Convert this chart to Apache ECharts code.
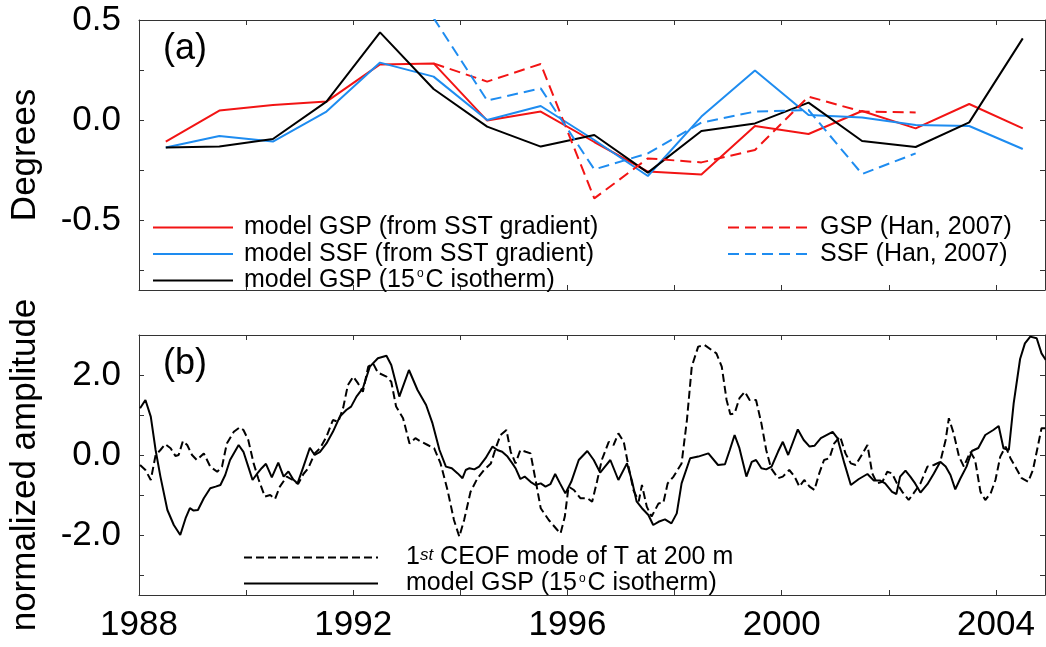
<!DOCTYPE html>
<html>
<head>
<meta charset="utf-8">
<script src="https://cdn.jsdelivr.net/npm/echarts@6/dist/echarts.min.js"></script>
<style>
  html, body { margin: 0; padding: 0; background: #fff; }
  #chart { width: 1046px; height: 647px; }
</style>
</head>
<body>
<div id="chart"></div>
<script>
// ---- Panel (a): annual means, degrees ----
const annualYears = [1988.5, 1989.5, 1990.5, 1991.5, 1992.5, 1993.5, 1994.5, 1995.5, 1996.5,
                     1997.5, 1998.5, 1999.5, 2000.5, 2001.5, 2002.5, 2003.5, 2004.5];
const gspSst  = [-0.108, 0.047, 0.075, 0.092, 0.278, 0.283, -0.003, 0.042, -0.11,
                 -0.258, -0.272, -0.03, -0.07, 0.045, -0.042, 0.08, -0.042];
const ssfSst  = [-0.137, -0.08, -0.108, 0.042, 0.287, 0.217, 0.0, 0.07, -0.1,
                 -0.28, 0.017, 0.247, 0.025, 0.013, -0.025, -0.03, -0.145];
const gsp15   = [-0.138, -0.133, -0.095, 0.092, 0.438, 0.155, -0.033, -0.133, -0.075,
                 -0.263, -0.055, -0.017, 0.087, -0.105, -0.135, -0.012, 0.408];
const gspHan  = [null, null, null, null, null, 0.283, 0.192, 0.28, -0.392,
                 -0.192, -0.212, -0.15, 0.117, 0.042, 0.038, null, null];
const ssfHan  = [null, null, null, null, null, 0.51, 0.097, 0.158, -0.247,
                 -0.167, -0.013, 0.042, 0.05, -0.27, -0.167, null, null];

// ---- Panel (b): normalized amplitude time series ----
const ceofYears = [1988.02, 1988.12, 1988.22, 1988.31, 1988.4, 1988.49, 1988.59, 1988.68, 1988.74, 1988.82,
  1988.9, 1988.99, 1989.08, 1989.21, 1989.33, 1989.46, 1989.55, 1989.64, 1989.77, 1989.88,
  1989.95, 1990.04, 1990.14, 1990.23, 1990.35, 1990.45, 1990.54, 1990.63, 1990.76, 1990.87,
  1990.97, 1991.07, 1991.16, 1991.28, 1991.38, 1991.5, 1991.62, 1991.72, 1991.81, 1991.9,
  1992.0, 1992.09, 1992.18, 1992.28, 1992.37, 1992.46, 1992.62, 1992.71, 1992.8, 1992.93,
  1993.05, 1993.16, 1993.27, 1993.39, 1993.51, 1993.63, 1993.76, 1993.88, 1993.98, 1994.07,
  1994.19, 1994.32, 1994.44, 1994.57, 1994.66, 1994.75, 1994.86, 1994.94, 1995.03, 1995.12,
  1995.22, 1995.31, 1995.4, 1995.5, 1995.65, 1995.81, 1995.87, 1995.95, 1996.02, 1996.12,
  1996.24, 1996.37, 1996.46, 1996.55, 1996.64, 1996.77, 1996.86, 1996.95, 1997.05, 1997.14,
  1997.23, 1997.33, 1997.39, 1997.48, 1997.57, 1997.7, 1997.79, 1997.87, 1997.98, 1998.13,
  1998.23, 1998.32, 1998.44, 1998.56, 1998.69, 1998.78, 1998.88, 1998.97, 1999.04, 1999.12,
  1999.21, 1999.31, 1999.4, 1999.52, 1999.62, 1999.71, 1999.8, 1999.93, 2000.02, 2000.14,
  2000.24, 2000.33, 2000.42, 2000.52, 2000.61, 2000.7, 2000.79, 2000.89, 2000.98, 2001.09,
  2001.19, 2001.29, 2001.38, 2001.51, 2001.6, 2001.69, 2001.78, 2001.88, 2001.97, 2002.06,
  2002.15, 2002.25, 2002.37, 2002.46, 2002.59, 2002.72, 2002.84, 2002.96, 2003.06, 2003.12,
  2003.21, 2003.31, 2003.4, 2003.52, 2003.61, 2003.71, 2003.8, 2003.9, 2003.99, 2004.08,
  2004.18, 2004.27, 2004.36, 2004.48, 2004.6, 2004.69, 2004.78, 2004.85, 2004.92];
const ceofValues = [-0.25, -0.375, -0.625, 0.0, 0.125, 0.27, 0.17, -0.025, 0.0, 0.35,
  0.25, 0.0, -0.125, 0.04, -0.29, -0.42, -0.29, 0.29, 0.58, 0.69,
  0.625, 0.375, -0.21, -0.6, -1.04, -1.0, -1.1, -0.79, -0.54, -0.625,
  -0.725, -0.475, -0.33, 0.04, 0.17, 0.46, 0.875, 0.83, 1.17, 1.75,
  1.96, 1.79, 1.58, 2.21, 2.29, 2.06, 1.96, 1.83, 1.21, 0.92,
  0.29, 0.42, 0.33, 0.25, 0.17, -0.21, -0.875, -1.625, -2.04, -1.625,
  -0.92, -0.58, -0.375, -0.21, 0.17, 0.5, 0.625, 0.08, -0.21, 0.125,
  0.08, 0.04, -0.6, -1.33, -1.625, -1.875, -1.96, -1.54, -0.79, -0.875,
  -1.08, -1.08, -1.17, -0.67, -0.125, 0.33, 0.25, 0.54, 0.33, -0.29,
  -0.875, -1.16, -0.75, -1.29, -1.54, -1.21, -1.19, -0.71, -0.54, -0.21,
  0.875, 2.21, 2.71, 2.75, 2.625, 2.54, 2.21, 1.375, 1.02, 1.04,
  1.42, 1.58, 1.375, 1.375, 0.79, 0.125, -0.33, -0.58, -0.54, -0.375,
  -0.54, -0.79, -0.625, -0.79, -0.875, -0.46, -0.125, -0.08, 0.29, 0.46,
  0.04, -0.21, -0.25, 0.04, 0.25, -0.46, -0.71, -0.67, -0.42, -0.46,
  -0.71, -0.92, -1.125, -0.96, -0.71, -0.29, -0.25, -0.17, 0.375, 0.92,
  0.54, -0.04, -0.29, 0.08, -0.125, -0.92, -1.125, -0.96, -0.625, -0.04,
  0.21, -0.08, -0.29, -0.58, -0.67, -0.375, 0.21, 0.67, 0.67];

const modelYears = [1988.02, 1988.12, 1988.22, 1988.31, 1988.4, 1988.53, 1988.65, 1988.77, 1988.87, 1988.95,
  1989.02, 1989.1, 1989.21, 1989.33, 1989.43, 1989.52, 1989.61, 1989.7, 1989.86, 1989.95,
  1990.04, 1990.12, 1990.21, 1990.29, 1990.37, 1990.48, 1990.6, 1990.7, 1990.79, 1990.88,
  1990.96, 1991.07, 1991.19, 1991.28, 1991.38, 1991.5, 1991.62, 1991.75, 1991.87, 1991.96,
  1992.06, 1992.18, 1992.31, 1992.46, 1992.62, 1992.71, 1992.86, 1993.04, 1993.2, 1993.36,
  1993.48, 1993.61, 1993.73, 1993.84, 1993.95, 1994.04, 1994.1, 1994.17, 1994.26, 1994.35,
  1994.47, 1994.6, 1994.69, 1994.78, 1994.88, 1994.97, 1995.03, 1995.12, 1995.2, 1995.31,
  1995.4, 1995.5, 1995.59, 1995.68, 1995.77, 1995.86, 1995.96, 1996.07, 1996.21, 1996.37,
  1996.49, 1996.61, 1996.7, 1996.8, 1996.95, 1997.11, 1997.2, 1997.29, 1997.39, 1997.51,
  1997.6, 1997.7, 1997.82, 1997.94, 1998.04, 1998.13, 1998.29, 1998.44, 1998.63, 1998.81,
  1998.94, 1999.03, 1999.12, 1999.21, 1999.34, 1999.44, 1999.52, 1999.62, 1999.71, 1999.81,
  1999.93, 2000.02, 2000.12, 2000.3, 2000.41, 2000.52, 2000.61, 2000.73, 2000.95, 2001.04,
  2001.17, 2001.29, 2001.44, 2001.6, 2001.72, 2001.84, 2001.93, 2002.06, 2002.14, 2002.21,
  2002.31, 2002.4, 2002.49, 2002.59, 2002.72, 2002.84, 2002.96, 2003.06, 2003.15, 2003.24,
  2003.33, 2003.45, 2003.55, 2003.67, 2003.8, 2003.95, 2004.05, 2004.14, 2004.24, 2004.33,
  2004.45, 2004.54, 2004.64, 2004.76, 2004.85, 2004.93];
const modelValues = [1.17, 1.375, 0.96, 0.125, -0.54, -1.375, -1.75, -2.0, -1.58, -1.33,
  -1.39, -1.375, -1.08, -0.83, -0.79, -0.75, -0.5, -0.125, 0.25, 0.08,
  -0.29, -0.625, -0.46, -0.33, -0.22, -0.56, -0.19, -0.54, -0.41, -0.61,
  -0.71, -0.29, 0.18, 0.0, 0.08, 0.29, 0.58, 0.96, 1.125, 1.21,
  1.46, 1.67, 2.21, 2.42, 2.48, 2.25, 1.46, 2.125, 1.625, 1.25,
  0.79, 0.125, -0.29, -0.33, -0.46, -0.58, -0.375, -0.33, -0.36, -0.29,
  -0.08, 0.21, 0.125, 0.08, -0.04, -0.21, -0.33, -0.6, -0.54, -0.67,
  -0.75, -0.71, -0.79, -0.73, -0.475, -0.71, -0.96, -0.67, -0.125, 0.1,
  -0.125, -0.44, -0.29, -0.125, -0.625, -0.21, -0.625, -1.16, -1.33, -1.5,
  -1.75, -1.67, -1.61, -1.71, -1.46, -0.71, -0.08, -0.04, 0.04, -0.25,
  -0.23, 0.125, 0.5, 0.17, -0.54, -0.17, -0.125, -0.33, -0.36, -0.29,
  0.08, 0.33, 0.0, 0.64, 0.375, 0.21, 0.23, 0.42, 0.58, 0.42,
  -0.21, -0.75, -0.6, -0.475, -0.64, -0.64, -0.71, -0.92, -0.975, -0.54,
  -0.39, -0.54, -0.71, -0.94, -0.73, -0.46, -0.17, -0.29, -0.5, -0.86,
  -0.6, -0.29, 0.1, 0.175, 0.5, 0.625, 0.725, 0.17, 0.125, 1.29,
  2.4, 2.79, 2.96, 2.92, 2.54, 2.375];

// ---- Axis ticks and labels ----
const xTickYears  = [1988, 1990, 1992, 1994, 1996, 1998, 2000, 2002, 2004];
const xLabelYears = [1988, 1992, 1996, 2000, 2004];
const degreeTicks  = [-0.75, -0.5, -0.25, 0, 0.25, 0.5];
const degreeLabels = [-0.5, 0, 0.5];
const ampTicks  = [-3, -2, -1, 0, 1, 2, 3];
const ampLabels = [-2, 0, 2];

const FONT = "'Liberation Sans', Arial, Helvetica, sans-serif";
const FRAME = '#333333';
const RED = '#f21414';
const BLUE = '#1e8cf0';
const X_MIN = 1988, X_MAX = 2004.915;

function pairs(xs, ys) { return xs.map((x, i) => [x, ys[i]]); }

function xAxis(gridIndex, position, showLabels) {
  return {
    type: 'value', gridIndex, position, min: X_MIN, max: X_MAX,
    axisLine: { show: true, onZero: false, lineStyle: { color: FRAME, width: 1 } },
    axisTick: { show: true, inside: true, length: 5, customValues: xTickYears,
                lineStyle: { color: FRAME, width: 1 } },
    axisLabel: { show: showLabels, customValues: xLabelYears, fontSize: 35, color: '#000',
                 fontFamily: FONT, margin: 13, formatter: v => String(v) },
    splitLine: { show: false }
  };
}

function yAxis(gridIndex, position, min, max, ticks, labels, name) {
  const showLabels = position === 'left';
  return {
    type: 'value', gridIndex, position, min, max,
    name: showLabels ? name : '',
    nameLocation: 'middle', nameGap: 96, nameRotate: 90,
    nameTextStyle: { fontSize: 35, color: '#000', fontFamily: FONT },
    axisLine: { show: true, onZero: false, lineStyle: { color: FRAME, width: 1 } },
    axisTick: { show: true, inside: true, length: 5, customValues: ticks,
                lineStyle: { color: FRAME, width: 1 } },
    axisLabel: { show: showLabels, customValues: labels, fontSize: 35, color: '#000',
                 fontFamily: FONT, margin: 18, formatter: v => Number(v).toFixed(1) },
    splitLine: { show: false }
  };
}

function line(name, xAxisIndex, yAxisIndex, data, color, dash, width) {
  return {
    type: 'line', name, xAxisIndex, yAxisIndex, data,
    showSymbol: false, symbol: 'none', clip: true, connectNulls: false,
    lineStyle: { color, width: width || 2, type: dash || 'solid' },
    itemStyle: { color },
    emphasis: { disabled: true }, animation: false
  };
}

// raised degree sign and ordinal suffix in legend entries
const legendRich = {
  deg: { fontSize: 12, lineHeight: 4, verticalAlign: 'top', fontFamily: FONT, color: '#000', padding: [0, 2, 0, 2] },
  sup: { fontSize: 17, lineHeight: 8, fontStyle: 'italic', verticalAlign: 'top', fontFamily: FONT, color: '#000' }
};
function legendText(name) {
  return name.replace('15°C', '15{deg|o}C').replace(/^1st/, '1{sup|st}');
}
function legend(left, top, names, itemWidth, textGap, lineHeight, itemGap) {
  return {
    orient: 'vertical', left, top, padding: 0, data: names, itemWidth, itemHeight: 14, itemGap,
    selectedMode: false, formatter: legendText,
    itemStyle: { opacity: 0 },
    textStyle: { fontSize: 25, color: '#000', fontFamily: FONT, lineHeight,
                 padding: [0, 0, 0, textGap], rich: legendRich }
  };
}

const chart = echarts.init(document.getElementById('chart'), null, { renderer: 'canvas' });
chart.setOption({
  backgroundColor: '#fff',
  animation: false,
  grid: [
    { left: 135, top: 20, width: 910, height: 270 },
    { left: 135, top: 335, width: 910, height: 260 }
  ],
  xAxis: [
    xAxis(0, 'bottom', false),
    xAxis(0, 'top', false),
    xAxis(1, 'bottom', true),
    xAxis(1, 'top', false)
  ],
  yAxis: [
    yAxis(0, 'left', -0.85, 0.5, degreeTicks, degreeLabels, 'Degrees'),
    yAxis(0, 'right', -0.85, 0.5, degreeTicks, degreeLabels, ''),
    yAxis(1, 'left', -3.5, 3, ampTicks, ampLabels, 'normalized amplitude'),
    yAxis(1, 'right', -3.5, 3, ampTicks, ampLabels, '')
  ],
  legend: [
    legend(152, 215, ['model GSP (from SST gradient)', 'model SSF (from SST gradient)', 'model GSP (15°C isotherm)'], 80, 6, 25, 1.5),
    legend(727, 215, ['GSP (Han, 2007)', 'SSF (Han, 2007)'], 81, 6, 25, 1.5),
    legend(243, 545, ['1st CEOF mode of T at 200 m', 'model GSP (15°C isotherm)'], 134, 23, 22, 1)
  ],
  graphic: [
    { type: 'text', left: 163, top: 31, style: { text: '(a)', fontSize: 36, fontFamily: FONT, fill: '#000' } },
    { type: 'text', left: 163, top: 346, style: { text: '(b)', fontSize: 36, fontFamily: FONT, fill: '#000' } }
  ],
  series: [
    line('model GSP (from SST gradient)', 0, 0, pairs(annualYears, gspSst), RED),
    line('model SSF (from SST gradient)', 0, 0, pairs(annualYears, ssfSst), BLUE),
    line('model GSP (15°C isotherm)', 0, 0, pairs(annualYears, gsp15), '#000'),
    line('GSP (Han, 2007)', 0, 0, pairs(annualYears, gspHan), RED, [11, 6]),
    line('SSF (Han, 2007)', 0, 0, pairs(annualYears, ssfHan), BLUE, [11, 6]),
    line('1st CEOF mode of T at 200 m', 2, 2, pairs(ceofYears, ceofValues), '#000', [8, 4]),
    line('model GSP (15°C isotherm)', 2, 2, pairs(modelYears, modelValues), '#000')
  ]
});
</script>
</body>
</html>
